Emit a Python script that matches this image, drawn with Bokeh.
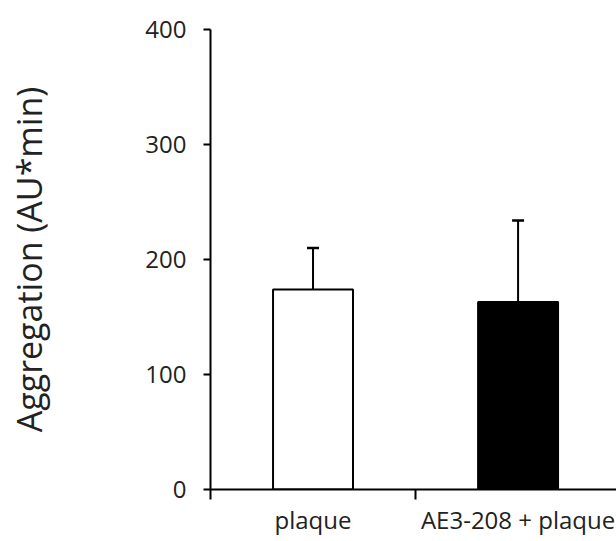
from bokeh.plotting import figure
from bokeh.models import ColumnDataSource, Range1d, FixedTicker, Whisker, TeeHead
from bokeh.embed import file_html
from bokeh.resources import INLINE

categories = ["plaque", "AE3-208 + plaque"]
means = [174, 163]
errors = [36, 71]
y_ticks = [0, 100, 200, 300, 400]

xs = [i + 0.5 for i in range(len(categories))]
colors = ["white", "black"]
src = ColumnDataSource(dict(x=xs, top=means, color=colors,
                            upper=[m + e for m, e in zip(means, errors)]))

FONT = "Open Sans"
p = figure(width=616, height=541, output_backend="svg", toolbar_location=None,
           x_range=Range1d(0, 1.98), y_range=Range1d(0, 400),
           min_border_left=210, min_border_right=0, min_border_top=29,
           min_border_bottom=52)
p.outline_line_color = None
p.grid.visible = False
p.background_fill_color = "white"
p.border_fill_color = "white"

p.vbar(x="x", top="top", width=0.39, bottom=0, source=src, fill_color="color",
       line_color="black", line_width=2)

wh = Whisker(base="x", lower="top", upper="upper", source=src, dimension="height",
             line_color="black", line_width=2,
             upper_head=TeeHead(size=12, line_color="black", line_width=2.5),
             lower_head=None)
p.add_layout(wh)

xa = p.xaxis[0]
xa.ticker = FixedTicker(ticks=xs, minor_ticks=[0, 1, 2])
xa.major_label_overrides = {x: c for x, c in zip(xs, categories)}
xa.major_tick_out = 0
xa.major_tick_in = 0
xa.minor_tick_out = 10
xa.minor_tick_in = 0
xa.minor_tick_line_width = 2
xa.minor_tick_line_color = "black"
xa.axis_line_width = 2
xa.axis_line_color = "black"
xa.major_label_text_font = FONT
xa.major_label_text_font_size = "24px"
xa.major_label_text_color = "#222222"
xa.major_label_standoff = 3

ya = p.yaxis[0]
ya.ticker = FixedTicker(ticks=y_ticks, minor_ticks=[])
ya.major_tick_out = 7
ya.major_tick_in = 0
ya.major_tick_line_width = 2
ya.axis_line_width = 2
ya.axis_line_color = "black"
ya.major_label_text_font = FONT
ya.major_label_text_font_size = "24px"
ya.major_label_text_color = "#222222"
ya.major_label_standoff = 17
ya.axis_label = "Aggregation (AU*min)"
ya.axis_label_text_font = FONT
ya.axis_label_text_font_size = "34px"
ya.axis_label_text_font_style = "normal"
ya.axis_label_text_color = "#222222"
ya.axis_label_standoff = 90

open("out.html", "w").write(file_html(p, INLINE))
